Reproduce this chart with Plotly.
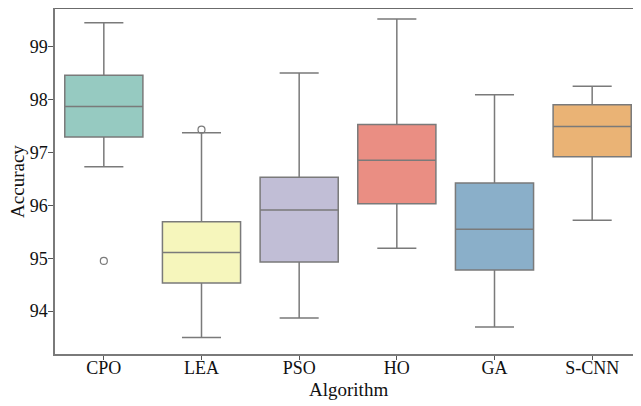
import colorsys
import plotly.graph_objects as go

algorithms = ["CPO", "LEA", "PSO", "HO", "GA", "S-CNN"]
lower_whisker = [96.73, 93.50, 93.87, 95.19, 93.70, 95.72]
q1_values = [97.29, 94.53, 94.93, 96.03, 94.78, 96.92]
median_values = [97.87, 95.11, 95.91, 96.85, 95.55, 97.49]
q3_values = [98.46, 95.69, 96.53, 97.53, 96.42, 97.90]
upper_whisker = [99.45, 97.37, 98.50, 99.52, 98.09, 98.25]
outlier_algorithms = ["CPO", "LEA"]
outlier_values = [94.95, 97.43]
y_ticks = [94, 95, 96, 97, 98, 99]

base_colors = ["#8dd3c7", "#ffffb3", "#bebada", "#fb8072", "#80b1d3", "#fdb462"]


def desaturate(hex_color, prop=0.75):
    r, g, b = (int(hex_color[i:i + 2], 16) / 255 for i in (1, 3, 5))
    h, l, s = colorsys.rgb_to_hls(r, g, b)
    r, g, b = colorsys.hls_to_rgb(h, l, s * prop)
    return "#%02x%02x%02x" % (round(r * 255), round(g * 255), round(b * 255))


colors = [desaturate(c) for c in base_colors]
line_gray = "#7a7a7a"
font_family = "Liberation Serif, Times New Roman, serif"

fig = go.Figure()
for i, name in enumerate(algorithms):
    fig.add_trace(go.Box(
        x=[name],
        q1=[q1_values[i]],
        median=[median_values[i]],
        q3=[q3_values[i]],
        lowerfence=[lower_whisker[i]],
        upperfence=[upper_whisker[i]],
        fillcolor=colors[i],
        line=dict(color=line_gray, width=1.5),
        width=0.8,
        whiskerwidth=0.5,
        boxpoints=False,
        showlegend=False,
        hoverinfo="skip",
    ))

fig.add_trace(go.Scatter(
    x=outlier_algorithms,
    y=outlier_values,
    mode="markers",
    marker=dict(symbol="circle-open", size=7, color=line_gray, line=dict(width=1.2)),
    showlegend=False,
    hoverinfo="skip",
))

fig.add_shape(type="line", xref="paper", yref="paper", x0=0, x1=1, y0=1, y1=1,
              line=dict(color="#3a3a3a", width=1.5))

fig.add_annotation(text="Algorithm", xref="paper", yref="paper", x=0.5, y=-0.104,
                   xanchor="center", yanchor="middle", showarrow=False,
                   font=dict(size=19, family=font_family, color="#111111"))
fig.add_annotation(text="Accuracy", xref="paper", yref="paper", x=-0.065, y=0.5,
                   xanchor="center", yanchor="middle", textangle=-90, showarrow=False,
                   font=dict(size=19, family=font_family, color="#111111"))

fig.update_layout(
    width=633, height=398,
    margin=dict(l=47, r=0, t=0, b=52),
    plot_bgcolor="white", paper_bgcolor="white",
    font=dict(family=font_family, size=18, color="#111111"),
    boxgap=0.2,
)
fig.update_xaxes(
    type="category",
    categoryorder="array", categoryarray=algorithms,
    range=[-0.5, 5.5],
    showline=True, linecolor="#7a7a7a", linewidth=1.5,
    ticks="outside", ticklen=4, tickcolor="#555555",
    showgrid=False, zeroline=False, automargin=False,
    tickfont=dict(size=18), ticklabelstandoff=-7,
)
fig.update_yaxes(
    range=[93.19, 99.73],
    tickvals=y_ticks,
    ticktext=[str(t) for t in y_ticks],
    showline=True, linecolor="#7a7a7a", linewidth=1.5,
    ticks="outside", ticklen=5, tickcolor="#555555",
    showgrid=False, zeroline=False, automargin=False,
    tickfont=dict(size=18), ticklabelstandoff=-3,
)

fig.write_html("out.html")
